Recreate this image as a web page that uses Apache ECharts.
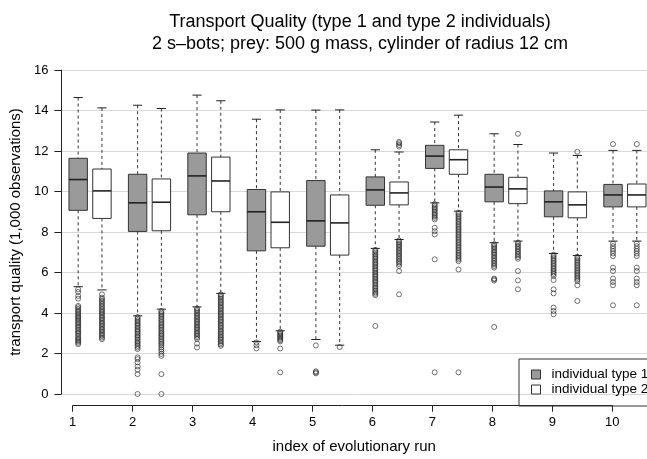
<!DOCTYPE html>
<html>
<head>
<meta charset="utf-8">
<script src="https://cdn.jsdelivr.net/npm/echarts@6/dist/echarts.min.js"></script>
<style>
  html, body { margin: 0; padding: 0; background: #fff; }
  #chart { width: 647px; height: 459px; }
</style>
</head>
<body>
<div id="chart"></div>
<script>
// ---- data ----
const runs = [1, 2, 3, 4, 5, 6, 7, 8, 9, 10];
const yTicks = [0, 2, 4, 6, 8, 10, 12, 14, 16];
const seriesNames = ['individual type 1', 'individual type 2'];

// [lower whisker, Q1, median, Q3, upper whisker]
const type1Stats = [
  [5.30, 9.07, 10.59, 11.64, 14.64],
  [3.86, 8.03, 9.44, 10.85, 14.26],
  [4.30, 8.85, 10.77, 11.90, 14.76],
  [2.59, 7.07, 9.00, 10.10, 13.57],
  [2.69, 7.30, 8.55, 10.54, 14.02],
  [7.19, 9.32, 10.08, 10.72, 12.06],
  [9.44, 11.14, 11.75, 12.28, 13.43],
  [7.47, 9.49, 10.22, 10.85, 12.85],
  [6.94, 8.75, 9.49, 10.03, 11.90],
  [7.55, 9.24, 9.83, 10.35, 12.03]
];
const type2Stats = [
  [5.14, 8.67, 10.03, 11.11, 14.13],
  [4.19, 8.06, 9.47, 10.62, 14.10],
  [4.97, 9.00, 10.52, 11.70, 14.48],
  [3.12, 7.22, 8.48, 9.98, 14.03],
  [2.41, 6.86, 8.45, 9.83, 14.03],
  [7.63, 9.34, 9.93, 10.47, 11.95],
  [9.03, 10.85, 11.57, 12.06, 13.77],
  [7.55, 9.40, 10.13, 10.70, 12.32],
  [6.84, 8.70, 9.34, 9.98, 11.78],
  [7.55, 9.24, 9.83, 10.37, 12.03]
];

const type1Outliers = [
  [5.17, 5.04, 4.84, 4.71, 4.35, 4.28, 4.2, 4.12, 4.05, 3.98, 3.9, 3.83, 3.76, 3.7, 3.62, 3.55, 3.48, 3.4, 3.33, 3.26, 3.18, 3.1, 3.03, 2.96, 2.88, 2.8, 2.73, 2.66, 2.6, 2.53, 2.46],
  [3.8, 3.72, 3.65, 3.58, 3.5, 3.43, 3.36, 3.28, 3.2, 3.13, 3.06, 2.98, 2.9, 2.83, 2.76, 2.68, 2.6, 2.53, 2.46, 2.38, 2.3, 2.22, 1.81, 1.72, 1.56, 1.36, 1.2, 0.98, 0],
  [4.22, 4.15, 4.08, 4.0, 3.92, 3.85, 3.78, 3.7, 3.62, 3.55, 3.48, 3.4, 3.32, 3.25, 3.18, 3.1, 3.02, 2.95, 2.88, 2.8, 2.72, 2.49, 2.3],
  [2.55, 2.41, 2.25],
  [2.4, 1.12, 1.07, 1.02],
  [7.12, 7.05, 6.98, 6.9, 6.82, 6.75, 6.68, 6.6, 6.52, 6.45, 6.38, 6.3, 6.22, 6.15, 6.08, 6.0, 5.92, 5.85, 5.78, 5.7, 5.62, 5.55, 5.48, 5.4, 5.32, 5.25, 5.18, 5.1, 5.02, 4.95, 4.88, 3.36],
  [9.38, 9.3, 9.22, 9.15, 9.08, 9.0, 8.92, 8.85, 8.78, 8.7, 8.62, 8.21, 8.04, 7.88, 6.65, 1.07],
  [7.4, 7.32, 7.25, 7.18, 7.1, 7.02, 6.95, 6.88, 6.8, 6.72, 6.64, 6.56, 6.48, 6.4, 6.32, 6.24, 5.7, 5.66, 5.6, 3.31],
  [6.88, 6.8, 6.72, 6.64, 6.56, 6.48, 6.4, 6.32, 6.24, 6.16, 6.08, 6.0, 5.92, 5.83, 5.63, 5.17, 4.97, 4.27, 4.1, 3.94],
  [12.34, 7.43, 7.3, 7.17, 7.06, 6.94, 6.81, 6.24, 6.07, 5.7, 5.53, 5.37, 4.38]
];
const type2Outliers = [
  [4.92, 4.76, 4.68, 4.6, 4.52, 4.44, 4.36, 4.28, 4.2, 4.12, 4.05, 3.98, 3.9, 3.82, 3.75, 3.68, 3.6, 3.52, 3.45, 3.38, 3.3, 3.22, 3.15, 3.08, 3.0, 2.93, 2.86, 2.78, 2.71],
  [4.1, 4.02, 3.95, 3.87, 3.8, 3.72, 3.64, 3.56, 3.48, 3.4, 3.33, 3.26, 3.18, 3.1, 3.02, 2.95, 2.88, 2.8, 2.72, 2.64, 2.56, 2.48, 2.4, 2.3, 2.2, 2.1, 1.98, 1.88, 0.98, 0],
  [4.92, 4.85, 4.78, 4.7, 4.62, 4.55, 4.48, 4.4, 4.32, 4.25, 4.18, 4.1, 4.02, 3.95, 3.88, 3.8, 3.72, 3.65, 3.58, 3.5, 3.42, 3.35, 3.28, 3.2, 3.12, 3.05, 2.98, 2.9, 2.82, 2.75, 2.68, 2.6, 2.52, 2.45, 2.38],
  [3.08, 3.02, 2.96, 2.9, 2.84, 2.78, 2.72, 2.66, 2.6, 2.25, 1.07],
  [2.32],
  [12.45, 12.38, 12.3, 12.22, 7.58, 7.5, 7.42, 7.35, 7.28, 7.2, 7.12, 7.05, 6.98, 6.9, 6.82, 6.74, 6.66, 6.58, 6.5, 6.42, 6.32, 6.07, 4.92],
  [8.96, 8.88, 8.8, 8.72, 8.64, 8.56, 8.48, 8.4, 8.32, 8.24, 8.16, 8.08, 8.0, 7.92, 7.84, 7.76, 7.68, 7.6, 7.52, 7.44, 7.36, 7.28, 7.2, 7.12, 7.04, 6.96, 6.88, 6.8, 6.72, 6.64, 6.56, 6.15, 1.07],
  [12.85, 7.48, 7.4, 7.32, 7.24, 7.16, 7.08, 7.0, 6.92, 6.84, 6.76, 6.68, 6.07, 5.61, 5.17],
  [11.96, 6.78, 6.7, 6.62, 6.54, 6.46, 6.38, 6.3, 6.22, 6.14, 6.06, 5.98, 5.9, 5.82, 5.74, 5.66, 5.58, 5.37, 4.59],
  [12.34, 7.43, 7.3, 7.17, 7.06, 6.94, 6.81, 6.24, 6.07, 5.7, 5.53, 5.37, 4.38]
];

// ---- layout / style ----
const PAIR_OFFSET = 0.4;   // type 2 box sits to the right of the run tick
const BOX_WIDTH = 0.31;    // in x-axis units
const FONT = 'Liberation Sans, Arial, Helvetica, sans-serif';
const fills = ['#9a9a9a', '#ffffff'];

function boxData(stats, offset) {
  return runs.map((r, i) => [r + offset].concat(stats[i]));
}
function outlierData(lists, offset) {
  const out = [];
  runs.forEach((r, i) => lists[i].forEach(v => out.push([r + offset, v])));
  return out;
}

function makeRender(fill) {
  return function (params, api) {
    const x = api.value(0);
    const lo = api.coord([x, api.value(1)]);
    const q1 = api.coord([x, api.value(2)]);
    const md = api.coord([x, api.value(3)]);
    const q3 = api.coord([x, api.value(4)]);
    const hi = api.coord([x, api.value(5)]);
    const hw = api.size([BOX_WIDTH, 0])[0] / 2;
    const cw = hw / 2;
    const cx = md[0];
    const dash = { stroke: '#333', lineWidth: 1, lineDash: [3, 3] };
    const solid = { stroke: '#222', lineWidth: 1 };
    return {
      type: 'group',
      children: [
        { type: 'line', shape: { x1: cx, y1: hi[1], x2: cx, y2: q3[1] }, style: dash },
        { type: 'line', shape: { x1: cx, y1: q1[1], x2: cx, y2: lo[1] }, style: dash },
        { type: 'line', shape: { x1: cx - cw, y1: hi[1], x2: cx + cw, y2: hi[1] }, style: solid },
        { type: 'line', shape: { x1: cx - cw, y1: lo[1], x2: cx + cw, y2: lo[1] }, style: solid },
        { type: 'rect', shape: { x: cx - hw, y: q3[1], width: hw * 2, height: q1[1] - q3[1] },
          style: { fill: fill, stroke: '#333', lineWidth: 1 } },
        { type: 'line', shape: { x1: cx - hw, y1: md[1], x2: cx + hw, y2: md[1] },
          style: { stroke: '#222', lineWidth: 1.6 } }
      ]
    };
  };
}

const chart = echarts.init(document.getElementById('chart'), null, { renderer: 'canvas' });

const option = {
  animation: false,
  backgroundColor: '#ffffff',
  textStyle: { fontFamily: FONT },
  title: {
    text: 'Transport Quality (type 1 and type 2 individuals)\n2 s\u2013bots; prey: 500 g mass, cylinder of radius 12 cm',
    left: 355,
    textAlign: 'center',
    top: 6,
    textStyle: { fontFamily: FONT, fontSize: 18, fontWeight: 'normal', color: '#000', lineHeight: 22 }
  },
  legend: {
    orient: 'vertical',
    left: 519,
    top: 359,
    padding: [8, 80, 9, 12],
    itemWidth: 9,
    itemHeight: 9,
    itemGap: 0,
    borderColor: '#333',
    borderWidth: 1,
    icon: 'rect',
    textStyle: { fontFamily: FONT, fontSize: 13.5, lineHeight: 15, color: '#000', padding: [0, 0, 0, 6] },
    data: [
      { name: seriesNames[0], itemStyle: { color: fills[0], borderColor: '#333', borderWidth: 1 } },
      { name: seriesNames[1], itemStyle: { color: fills[1], borderColor: '#333', borderWidth: 1 } }
    ]
  },
  grid: [
    { left: 56, right: 0, top: 70, bottom: 64 },
    { left: 72.7, right: 34.7, top: 404.7, height: 1 }
  ],
  xAxis: [
    {
      type: 'value', gridIndex: 0, min: 0.717, max: 10.572,
      axisLine: { show: false }, axisTick: { show: false }, axisLabel: { show: false },
      splitLine: { show: false },
      name: 'index of evolutionary run', nameLocation: 'middle', nameGap: 45,
      nameTextStyle: { fontFamily: FONT, fontSize: 15, color: '#000' }
    },
    {
      type: 'value', gridIndex: 1, min: runs[0], max: runs[runs.length - 1], interval: 1,
      axisLine: { show: true, lineStyle: { color: '#222', width: 1 } },
      axisTick: { show: true, length: 6, lineStyle: { color: '#222' } },
      axisLabel: { fontFamily: FONT, fontSize: 13, color: '#000', margin: 10 },
      splitLine: { show: false }
    }
  ],
  yAxis: [
    {
      type: 'value', gridIndex: 0, min: yTicks[0], max: yTicks[yTicks.length - 1], interval: 2,
      axisLine: { show: true, lineStyle: { color: '#222', width: 1 } },
      axisTick: { show: true, length: 7, lineStyle: { color: '#222' } },
      axisLabel: { fontFamily: FONT, fontSize: 13, color: '#000', margin: 13 },
      splitLine: { show: true, lineStyle: { color: '#d9d9d9', width: 1 } },
      name: 'transport quality (1,000 observations)', nameLocation: 'middle', nameGap: 32,
      nameTextStyle: { fontFamily: FONT, fontSize: 15, color: '#000' }
    },
    { type: 'value', gridIndex: 1, show: false }
  ],
  series: [
    {
      name: seriesNames[0], type: 'custom', xAxisIndex: 0, yAxisIndex: 0,
      renderItem: makeRender(fills[0]), clip: false,
      itemStyle: { color: fills[0], borderColor: '#333' },
      encode: { x: 0, y: [1, 2, 3, 4, 5] },
      data: boxData(type1Stats, 0), z: 2
    },
    {
      name: seriesNames[1], type: 'custom', xAxisIndex: 0, yAxisIndex: 0,
      renderItem: makeRender(fills[1]), clip: false,
      itemStyle: { color: fills[1], borderColor: '#333' },
      encode: { x: 0, y: [1, 2, 3, 4, 5] },
      data: boxData(type2Stats, PAIR_OFFSET), z: 2
    },
    {
      name: 'type 1 outliers', type: 'scatter', xAxisIndex: 0, yAxisIndex: 0,
      symbol: 'circle', symbolSize: 5, clip: false, z: 3,
      itemStyle: { color: 'rgba(0,0,0,0)', borderColor: '#222', borderWidth: 0.8 },
      data: outlierData(type1Outliers, 0)
    },
    {
      name: 'type 2 outliers', type: 'scatter', xAxisIndex: 0, yAxisIndex: 0,
      symbol: 'circle', symbolSize: 5, clip: false, z: 3,
      itemStyle: { color: 'rgba(0,0,0,0)', borderColor: '#222', borderWidth: 0.8 },
      data: outlierData(type2Outliers, PAIR_OFFSET)
    }
  ]
};
chart.setOption(option);
</script>
</body>
</html>
